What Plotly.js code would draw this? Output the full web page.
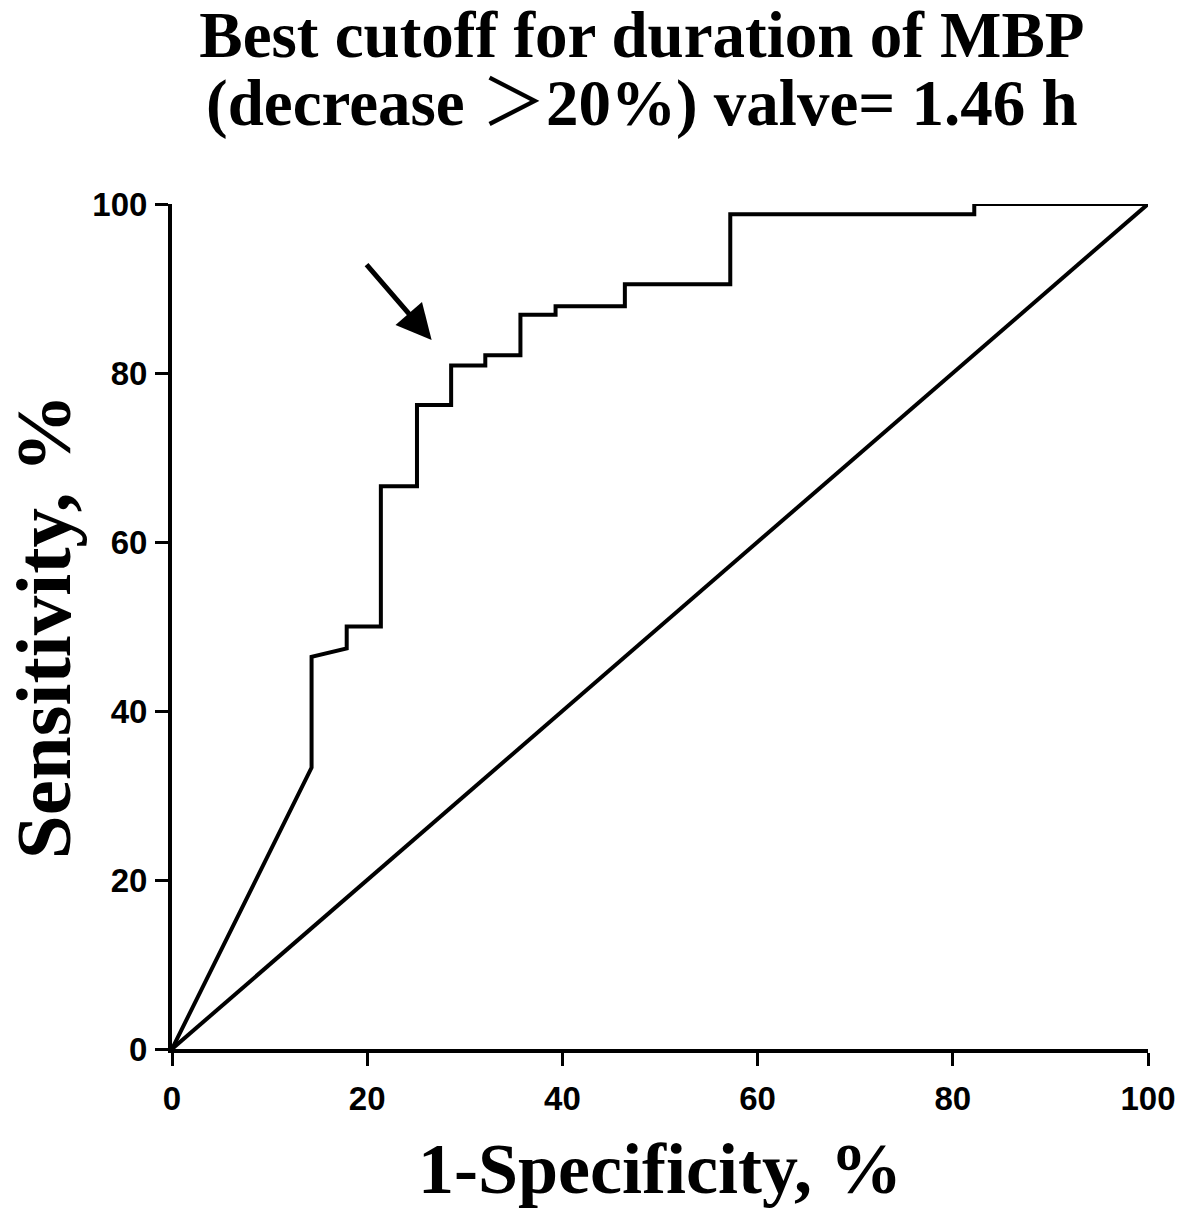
<!DOCTYPE html>
<html>
<head>
<meta charset="utf-8">
<script src="https://cdn.plot.ly/plotly-3.0.1.min.js"></script>
<style>html,body{margin:0;padding:0;background:#fff;}#chart{width:1180px;height:1212px;}</style>
</head>
<body>
<div id="chart"></div>
<script>
// ROC curve points (1-Specificity %, Sensitivity %)
const rocX = [0, 14.3, 14.3, 17.9, 17.9, 21.4, 21.4, 25.1, 25.1, 28.6, 28.6, 32.1, 32.1, 35.7, 35.7, 39.3, 39.3, 46.4, 46.4, 57.2, 57.2, 82.2, 82.2, 100];
const rocY = [0, 33.3, 46.4, 47.4, 50.0, 50.0, 66.6, 66.6, 76.2, 76.2, 80.9, 80.9, 82.1, 82.1, 86.9, 86.9, 87.9, 87.9, 90.5, 90.5, 98.8, 98.8, 100, 100];
const refX = [0, 100];
const refY = [0, 100];
const tickVals = [0, 20, 40, 60, 80, 100];
const tickText = ['0', '20', '40', '60', '80', '100'];
const arrowHead = [26.6, 83.9];
const arrowTail = [19.8, 93.0];
const titleLine1 = 'Best cutoff for duration of MBP';
const titleLine2 = '(decrease <span style="font-family:\'Noto Sans CJK SC\';font-weight:normal">＞</span>20%) valve= 1.46 h';

const serif = '"Liberation Serif", "Times New Roman", serif';
const sans = '"Liberation Sans", Arial, sans-serif';

const traces = [
  {x: rocX, y: rocY, type: 'scatter', mode: 'lines', line: {color: '#000', width: 4, shape: 'linear'}, cliponaxis: false, hoverinfo: 'skip'},
  {x: refX, y: refY, type: 'scatter', mode: 'lines', line: {color: '#000', width: 4}, cliponaxis: false, hoverinfo: 'skip'}
];

const axisCommon = {
  range: [0, 100], showgrid: false, zeroline: false,
  showline: true, linecolor: '#000', linewidth: 4,
  ticks: 'outside', ticklen: 13, tickwidth: 3, tickcolor: '#000',
  tickvals: tickVals, ticktext: tickText,
  tickfont: {family: sans, size: 33, color: '#000', weight: 'bold'}
};

const layout = {
  width: 1180, height: 1212,
  margin: {l: 172, r: 32, t: 204, b: 163},
  paper_bgcolor: '#fff', plot_bgcolor: '#fff',
  showlegend: false,
  title: {
    text: titleLine1,
    font: {family: serif, size: 65, color: '#000', weight: 'bold'},
    x: 0.544, xref: 'container', xanchor: 'center',
    y: 0.972, yref: 'container', yanchor: 'middle'
  },
  xaxis: Object.assign({}, axisCommon, {
    ticklabelstandoff: 4,
    title: {text: '1-Specificity, %', font: {family: serif, size: 72, color: '#000', weight: 'bold'}, standoff: 28}
  }),
  yaxis: Object.assign({}, axisCommon, {
    ticklabelstandoff: 1,
    title: {text: 'Sensitivity, %', font: {family: serif, size: 79, color: '#000', weight: 'bold'}, standoff: 24}
  }),
  annotations: [
    {
      x: arrowHead[0], y: arrowHead[1], ax: arrowTail[0], ay: arrowTail[1],
      xref: 'x', yref: 'y', axref: 'x', ayref: 'y',
      text: '', showarrow: true, arrowhead: 2, arrowsize: 1.4, arrowwidth: 5, arrowcolor: '#000'
    },
    {
      text: titleLine2, showarrow: false,
      xref: 'paper', yref: 'paper', x: 0.4816, y: 1.1265, xanchor: 'center', yanchor: 'middle',
      font: {family: serif, size: 65, color: '#000', weight: 'bold'}
    }
  ]
};

Plotly.newPlot('chart', traces, layout, {staticPlot: true});
</script>
</body>
</html>
